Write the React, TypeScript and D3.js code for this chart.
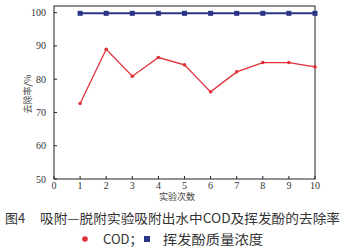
import React from "react";
import * as d3 from "d3";

const runs = [1, 2, 3, 4, 5, 6, 7, 8, 9, 10];
const codRemoval = [72.7, 89.0, 80.9, 86.5, 84.3, 76.2, 82.2, 85.0, 85.0, 83.7];
const phenolRemoval = [99.8, 99.8, 99.8, 99.8, 99.8, 99.8, 99.8, 99.8, 99.8, 99.8];
const xTicks = [0, 1, 2, 3, 4, 5, 6, 7, 8, 9, 10];
const yTicks = [50, 60, 70, 80, 90, 100];

const W = 346, H = 249;
const left = 54, right = 315, top = 6, bottom = 179;
const serif = "'Liberation Serif', 'DejaVu Serif', serif";
const cjk = "'Noto Sans CJK SC', sans-serif";

export default function App() {
  const x = d3.scaleLinear().domain([0, 10]).range([left, right]);
  const y = d3.scaleLinear().domain([50, 102]).range([bottom, top]);
  const line = d3.line<number>().x((_, i) => x(runs[i])).y((d) => y(d));
  const red = "#e0303a";
  const blue = "#2b3585";
  return (
    <svg width={W} height={H} style={{ position: "absolute", left: 0, top: 0, background: "#fff" }}>
      <rect x={left} y={top} width={right - left} height={bottom - top} fill="none" stroke="#222" strokeWidth={1} />
      {xTicks.map((t) => (
        <g key={"x" + t}>
          <line x1={x(t)} x2={x(t)} y1={bottom} y2={bottom - 3} stroke="#222" />
          <text x={x(t)} y={189} fontSize={10} fontFamily={serif} textAnchor="middle" fill="#333">{t}</text>
        </g>
      ))}
      {yTicks.map((t) => (
        <g key={"y" + t}>
          <line x1={left} x2={left + 3} y1={y(t)} y2={y(t)} stroke="#222" />
          <text x={46} y={y(t) + 3.5} fontSize={10} fontFamily={serif} textAnchor="end" fill="#333">{t}</text>
        </g>
      ))}
      <text transform={`translate(31,94) rotate(-90)`} fontSize={9} fontFamily={cjk} textAnchor="middle" fill="#444">去除率/%</text>
      <text x={177} y={200} fontSize={9} fontFamily={cjk} textAnchor="middle" fill="#444">实验次数</text>
      <path d={line(codRemoval) || ""} fill="none" stroke={red} strokeWidth={1.3} />
      {codRemoval.map((v, i) => (
        <circle key={"c" + i} cx={x(runs[i])} cy={y(v)} r={1.8} fill={red} />
      ))}
      <path d={line(phenolRemoval) || ""} fill="none" stroke={blue} strokeWidth={2} />
      {phenolRemoval.map((v, i) => (
        <rect key={"b" + i} x={x(runs[i]) - 2.5} y={y(v) - 2.5} width={5} height={5} fill={blue} />
      ))}
      <text x={5} y={223} fontSize={13} fontFamily={cjk} fill="#333">图4</text>
      <text x={40} y={223} fontSize={13} fontFamily={cjk} fill="#333" textLength={300} lengthAdjust="spacingAndGlyphs">吸附—脱附实验吸附出水中COD及挥发酚的去除率</text>
      <circle cx={85} cy={239} r={2.8} fill={red} />
      <text x={103} y={244} fontSize={13} fontFamily={cjk} fill="#333">COD；</text>
      <rect x={144} y={236} width={6} height={6} fill={blue} />
      <text x={163} y={244} fontSize={13} fontFamily={cjk} fill="#333" textLength={100} lengthAdjust="spacingAndGlyphs">挥发酚质量浓度</text>
    </svg>
  );
}
